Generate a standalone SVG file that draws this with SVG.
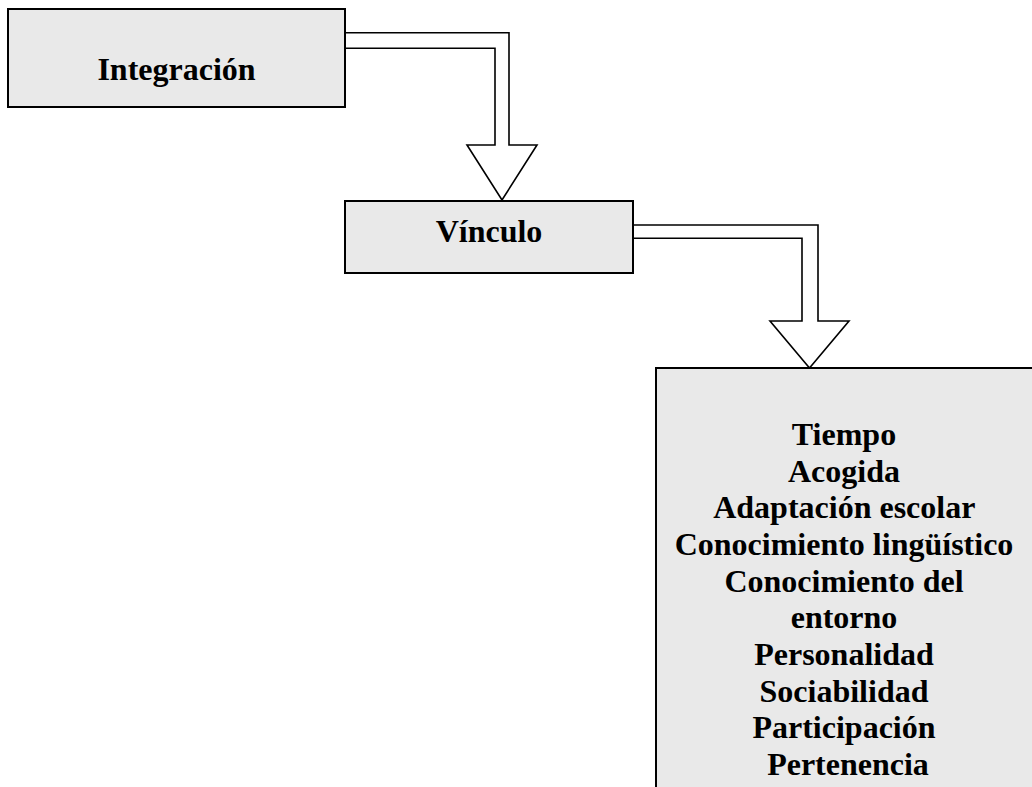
<svg xmlns="http://www.w3.org/2000/svg" width="1032" height="787" viewBox="0 0 1032 787">
  <style>
    .box { fill: #e9e9e9; stroke: #000; stroke-width: 2; }
    .arrow { fill: #fff; stroke: #000; stroke-width: 1.6; stroke-linejoin: miter; }
    .label { font-family: "Liberation Serif", "Times New Roman", serif; font-weight: bold; font-size: 32px; fill: #000; text-anchor: middle; }
  </style>
  <rect width="1032" height="787" fill="#fff"/>

  <!-- block arrows between levels -->
  <g id="connectors">
    <path class="arrow" d="M345,32.7 H509 V145 H537 L502,200 L467,145 H495 V48.3 H345"/>
    <path class="arrow" d="M633,225 H818 V321 H849 L809.5,368 L770,321 H802 V238.3 H633"/>
  </g>

  <g id="integracion">
    <rect class="box" x="8" y="9" width="337" height="98"/>
    <text class="label" x="176.5" y="80">Integración</text>
  </g>

  <g id="vinculo">
    <rect class="box" x="345" y="201" width="288" height="72"/>
    <text class="label" x="489" y="242">Vínculo</text>
  </g>

  <g id="factores">
    <rect class="box" x="656" y="368" width="390" height="430"/>
    <text class="label" x="848">
      <tspan x="848" y="445">Tiempo</tspan>
      <tspan x="848" y="481.7">Acogida</tspan>
      <tspan x="848" y="518.3">Adaptación escolar</tspan>
      <tspan x="848" y="555">Conocimiento lingüístico</tspan>
      <tspan x="848" y="591.7">Conocimiento del</tspan>
      <tspan x="848" y="628.3">entorno</tspan>
      <tspan x="848" y="665">Personalidad</tspan>
      <tspan x="848" y="701.7">Sociabilidad</tspan>
      <tspan x="848" y="738.3">Participación</tspan>
      <tspan x="848" y="775">Pertenencia</tspan>
    </text>
  </g>
</svg>
